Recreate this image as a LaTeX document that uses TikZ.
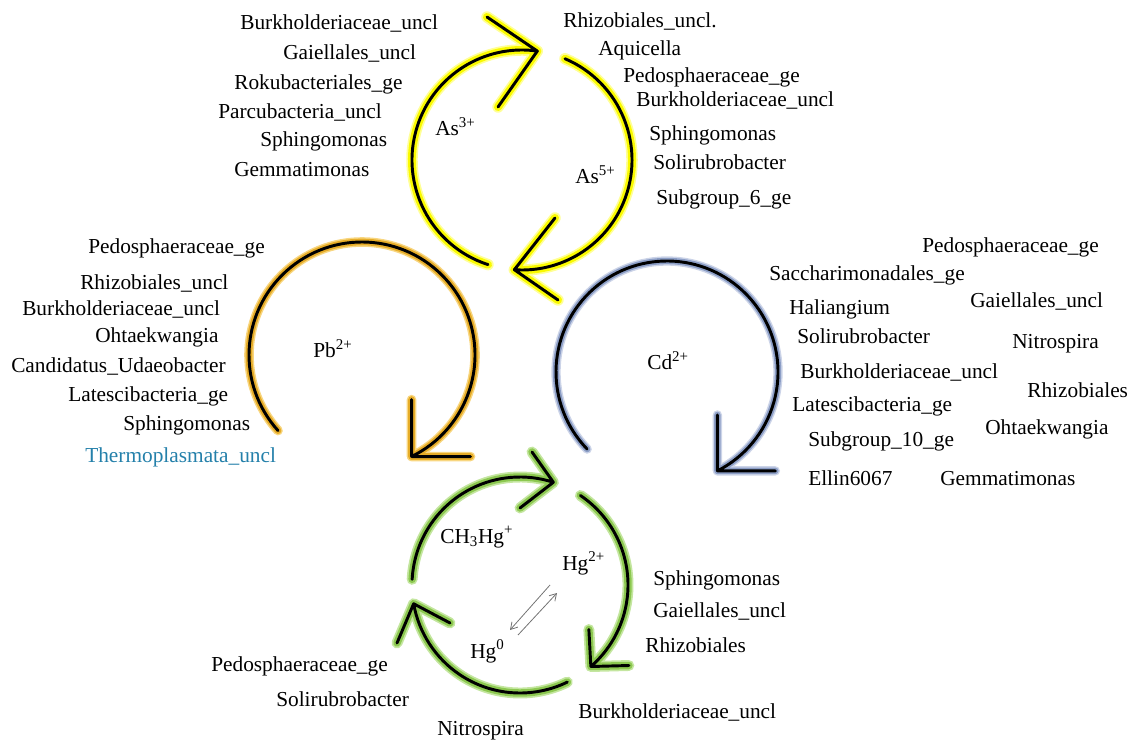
\documentclass[tikz,border=0pt]{standalone}
\usepackage{fontspec}
\setmainfont{Liberation Serif}
\usetikzlibrary{arrows.meta,calc}

\definecolor{asmain}{RGB}{250,250,0}
\definecolor{ashalo}{RGB}{255,255,150}
\definecolor{pbmain}{RGB}{230,172,40}
\definecolor{pbhalo}{RGB}{248,214,128}
\definecolor{cdmain}{RGB}{140,158,198}
\definecolor{cdhalo}{RGB}{204,212,232}
\definecolor{hgmain}{RGB}{140,200,80}
\definecolor{hghalo}{RGB}{196,230,160}
\definecolor{teal}{RGB}{36,128,170}

\begin{document}
\begin{tikzpicture}[x=0.75pt,y=0.75pt,
  lbl/.style={anchor=base west, inner sep=0pt, font=\fontsize{16}{19}\selectfont},
  cyc/.style n args={4}{
    preaction={draw=#2, line width=#4, line cap=round, line join=round},
    preaction={draw=#1, line width=#3, line cap=round, line join=round},
    draw=black, line width=2.2pt, line cap=round, line join=round},
  eqarrow/.style={draw=black!55, line width=0.6pt, -{Straight Barb[length=5pt,width=6pt]}}]

\useasboundingbox (0,0) rectangle (1130,743);

% ---------- arsenic cycle ----------
\coordinate (asC) at (522,583);
\draw[cyc={asmain}{ashalo}{6pt}{8.6pt}]
  ([shift={(252:110)}]asC) arc[start angle=252, end angle=82, radius=110] coordinate (asTop)
  ([shift={(67:110)}]asC) arc[start angle=67, end angle=-94, radius=110] coordinate (asBot)
  (487,726) -- (asTop) -- (498,636)
  (555,525) -- (asBot) -- (558,443);

% ---------- lead cycle ----------
\coordinate (pbC) at (362,388);
\draw[cyc={pbmain}{pbhalo}{5pt}{7.2pt}]
  ([shift={(222:113)}]pbC) arc[start angle=222, end angle=-64, radius=113] coordinate (pbTip)
  ($(pbTip)+(0,57)$) -- (pbTip) -- ($(pbTip)+(59,0)$);

% ---------- cadmium cycle ----------
\coordinate (cdC) at (667,371);
\draw[cyc={cdmain}{cdhalo}{4.8pt}{7pt}]
  ([shift={(224:111)}]cdC) arc[start angle=224, end angle=-63, radius=111] coordinate (cdTip)
  ($(cdTip)+(0,56)$) -- (cdTip) -- ($(cdTip)+(58,0)$);

% ---------- mercury cycle ----------
\coordinate (hgC) at (520,158);
\draw[cyc={hgmain}{hghalo}{5.6pt}{8.2pt}]
  ([shift={(177:108)}]hgC) arc[start angle=177, end angle=72, radius=108] coordinate (hgA)
  ([shift={(56:108)}]hgC) arc[start angle=56, end angle=-49, radius=108] coordinate (hgB)
  ([shift={(-64:108)}]hgC) arc[start angle=-64, end angle=-170, radius=108] coordinate (hgD)
  (532,291) -- (hgA) -- (520,235)
  ($(hgB)+(-2,37)$) -- (hgB) -- ($(hgB)+(38,1)$)
  (450,120) -- (hgD) -- (397,100);

% Hg0 <-> Hg2+ equilibrium
\coordinate (eq1s) at (550,158);
\coordinate (eq1e) at (510,113);
\coordinate (eq2s) at (518,108);
\coordinate (eq2e) at (557,150);
\draw[eqarrow] (eq1s) -- (eq1e);
\draw[eqarrow] (eq2s) -- (eq2e);

% ---------- ion labels ----------
\node[lbl] (as3) at (435,607) {As\textsuperscript{3+}};
\node[lbl] (as5) at (575,559) {As\textsuperscript{5+}};
\node[lbl] (pb2) at (313,385) {Pb\textsuperscript{2+}};
\node[lbl] (cd2) at (647,373) {Cd\textsuperscript{2+}};
\node[lbl] (mehg) at (440,200) {CH\textsubscript{3}Hg\textsuperscript{+}};
\node[lbl] (hg2) at (562,173) {Hg\textsuperscript{2+}};
\node[lbl] (hg0) at (470,85) {Hg\textsuperscript{0}};

% ---------- As taxa ----------
\node[lbl] (asl1) at (240,713) {Burkholderiaceae\_uncl};
\node[lbl] (asl2) at (283,683) {Gaiellales\_uncl};
\node[lbl] (asl3) at (234,653) {Rokubacteriales\_ge};
\node[lbl] (asl4) at (218,624) {Parcubacteria\_uncl};
\node[lbl] (asl5) at (260,596) {Sphingomonas};
\node[lbl] (asl6) at (234,566) {Gemmatimonas};

\node[lbl] (asr1) at (563,715) {Rhizobiales\_uncl.};
\node[lbl] (asr2) at (598,687) {Aquicella};
\node[lbl] (asr3) at (623,660) {Pedosphaeraceae\_ge};
\node[lbl] (asr4) at (636,636) {Burkholderiaceae\_uncl};
\node[lbl] (asr5) at (649,602) {Sphingomonas};
\node[lbl] (asr6) at (653,573) {Solirubrobacter};
\node[lbl] (asr7) at (656,538) {Subgroup\_6\_ge};

% ---------- Pb taxa ----------
\node[lbl] (pb1) at (88,489) {Pedosphaeraceae\_ge};
\node[lbl] (pbt2) at (80,453) {Rhizobiales\_uncl};
\node[lbl] (pbt3) at (22,427) {Burkholderiaceae\_uncl};
\node[lbl] (pbt4) at (95,400) {Ohtaekwangia};
\node[lbl] (pbt5) at (11,370) {Candidatus\_Udaeobacter};
\node[lbl] (pbt6) at (68,341) {Latescibacteria\_ge};
\node[lbl] (pbt7) at (123,313) {Sphingomonas};
\node[lbl, text=teal] (pbt8) at (85,281) {Thermoplasmata\_uncl};

% ---------- Cd taxa ----------
\node[lbl] (cdt1) at (922,490) {Pedosphaeraceae\_ge};
\node[lbl] (cdt2) at (769,462) {Saccharimonadales\_ge};
\node[lbl] (cdt3) at (970,435) {Gaiellales\_uncl};
\node[lbl] (cdt4) at (789,428) {Haliangium};
\node[lbl] (cdt5) at (797,399) {Solirubrobacter};
\node[lbl] (cdt6) at (1012,394) {Nitrospira};
\node[lbl] (cdt7) at (800,364) {Burkholderiaceae\_uncl};
\node[lbl] (cdt8) at (1027,345) {Rhizobiales};
\node[lbl] (cdt9) at (792,331) {Latescibacteria\_ge};
\node[lbl] (cdt10) at (985,309) {Ohtaekwangia};
\node[lbl] (cdt11) at (808,297) {Subgroup\_10\_ge};
\node[lbl] (cdt12) at (808,258) {Ellin6067};
\node[lbl] (cdt13) at (940,258) {Gemmatimonas};

% ---------- Hg taxa ----------
\node[lbl] (hgt1) at (653,158) {Sphingomonas};
\node[lbl] (hgt2) at (653,126) {Gaiellales\_uncl};
\node[lbl] (hgt3) at (645,91) {Rhizobiales};
\node[lbl] (hgt4) at (578,25) {Burkholderiaceae\_uncl};
\node[lbl] (hgt5) at (211,72) {Pedosphaeraceae\_ge};
\node[lbl] (hgt6) at (276,37) {Solirubrobacter};
\node[lbl] (hgt7) at (437,8) {Nitrospira};

\end{tikzpicture}
\end{document}
